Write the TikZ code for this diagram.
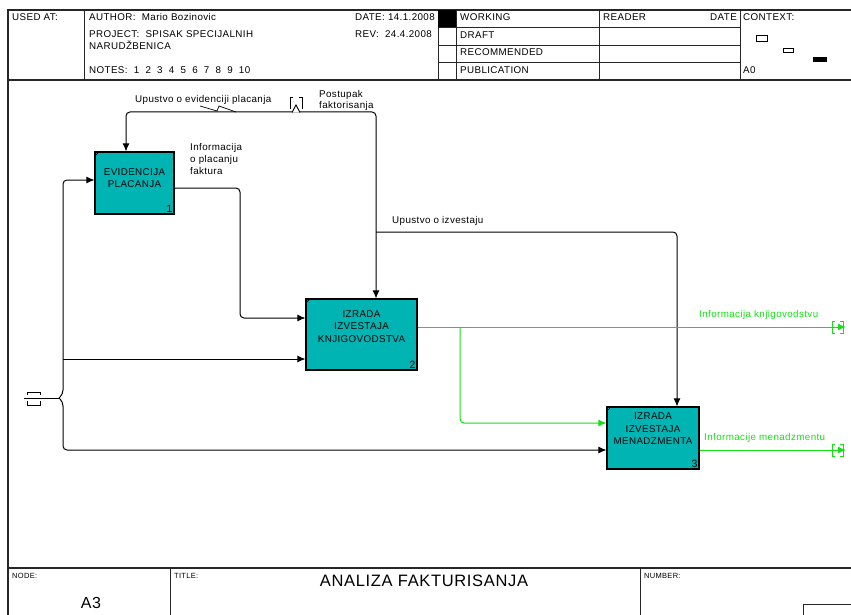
\documentclass[tikz,border=0pt]{standalone}
\usepackage{fontspec}
\setmainfont[LetterSpace=4]{Liberation Sans}
\usepackage{tikz}
\usetikzlibrary{arrows.meta,positioning,calc}
\definecolor{boxteal}{RGB}{0,180,180}
\definecolor{flowgreen}{RGB}{20,225,20}
\newcommand{\formfont}{\fontsize{9.8}{12}\selectfont}
\newcommand{\tinyfont}{\fontsize{7.5}{8}\selectfont}

\tikzset{
    frame/.style={line width=1.2pt, black!85},
    rule/.style={line width=0.9pt, black!85},
    formtext/.style={anchor=west, inner sep=0pt, text height=7pt, text depth=1.5pt, font=\formfont},
    actbox/.style={draw, line width=1.1pt, fill=boxteal},
    boxtext/.style={align=center, inner sep=0pt, font=\fontsize{9.8}{12.5}\selectfont},
    num/.style={anchor=south east, inner sep=2pt, font=\fontsize{10.5}{12}\selectfont},
    ctrl/.style={line width=1pt, rounded corners=4pt},
    gflow/.style={line width=1pt, flowgreen, rounded corners=4pt},
    lbl/.style={inner sep=0pt, font=\formfont}
}

\begin{document}
\begin{tikzpicture}[x=1pt, y=-1pt, >={Latex[length=8pt,width=7pt]}]
    \useasboundingbox (0,0) rectangle (851,615);

    % form frame
    \draw[frame] (8,615) -- (8,10) -- (851,10);
    \draw[frame] (8,80) -- (851,80);
    \draw[frame] (8,568) -- (851,568);
    \draw[rule] (84,10) -- (84,80);
    \draw[rule] (438,10) -- (438,80);
    \draw[rule] (456,10) -- (456,80);
    \draw[rule] (599,10) -- (599,80);
    \draw[rule] (740,10) -- (740,80);
    \foreach \y in {27.5,45,62.5} {
        \draw[rule] (438,\y) -- (740,\y);
    }
    \fill (438,10) rectangle (456,27.5);
    \draw[rule] (170,568) -- (170,615);
    \draw[rule] (640,568) -- (640,615);
    \draw[rule] (803,615) -- (803,604) -- (851,604);

    % header texts
    \node[formtext] (usedat) at (12,18) {USED AT:};
    \node[formtext] (author) at (89,18) {AUTHOR:\ \ Mario Bozinovic};
    \node[formtext] (project) at (89,35) {PROJECT:\ \ SPISAK SPECIJALNIH};
    \node[formtext] (project2) at (89,47) {NARUDŽBENICA};
    \node[formtext] (notes) at (89,71) {NOTES:\ \ 1\ \ 2\ \ 3\ \ 4\ \ 5\ \ 6\ \ 7\ \ 8\ \ 9\ \ 10};
    \node[formtext] (date) at (355,18) {DATE: 14.1.2008};
    \node[formtext] (rev) at (355,35) {REV:\ \ 24.4.2008};
    \node[formtext] (working) at (460,18) {WORKING};
    \node[formtext] (draft) at (460,35.5) {DRAFT};
    \node[formtext] (recommended) at (460,53) {RECOMMENDED};
    \node[formtext] (publication) at (460,71) {PUBLICATION};
    \node[formtext] (reader) at (603,18) {READER};
    \node[formtext, anchor=east] (rdate) at (737,18) {DATE};
    \node[formtext] (context) at (743,18) {CONTEXT:};
    \node[formtext] (a0) at (743,71) {A0};
    \draw[line width=0.8pt] (756,35) rectangle (767,41);
    \draw[line width=0.8pt] (783,48) rectangle (793,52);
    \fill (813,57) rectangle (827,62);

    % footer texts
    \node[formtext, font=\tinyfont] (nodelbl) at (12,576) {NODE:};
    \node[formtext, font=\tinyfont] (titlelbl) at (174,576) {TITLE:};
    \node[formtext, font=\tinyfont] (numberlbl) at (644,576) {NUMBER:};
    \node[inner sep=0pt, font=\fontsize{16.5}{18}\selectfont] (title) at (424,581) {ANALIZA FAKTURISANJA};
    \node[inner sep=0pt, font=\fontsize{16}{18}\selectfont] (nodeno) at (91,603) {A3};

    % activity boxes
    \node[actbox, minimum width=79pt, minimum height=62pt] (b1) at (134.5,183) {};
    \node[boxtext] (t1) at ([yshift=5pt]b1.center) {EVIDENCIJA\\PLACANJA};
    \node[num] (n1) at (b1.south east) {1};
    \node[actbox, minimum width=111pt, minimum height=71pt] (b2) at (361.5,334.5) {};
    \node[boxtext] (t2) at ([yshift=8pt]b2.center) {IZRADA\\IZVESTAJA\\KNJIGOVODSTVA};
    \node[num] (n2) at (b2.south east) {2};
    \node[actbox, minimum width=92pt, minimum height=62pt] (b3) at (653,438) {};
    \node[boxtext] (t3) at ([yshift=9pt]b3.center) {IZRADA\\IZVESTAJA\\MENADZMENTA};
    \node[num] (n3) at (b3.south east) {3};
    \foreach \b in {b1,b2,b3} {
        \draw[line width=0.6pt] ([yshift=-5pt]\b.north west) -- ([xshift=5pt]\b.north west);
    }

    % controls from the top tunnel
    \coordinate (tun1) at (296,112);
    \coordinate (c1) at (126,112);
    \coordinate (c2) at (376,112);
    \coordinate (j2) at (376,232);
    \coordinate (c3) at (677,232);
    \draw[ctrl,->] (tun1) -- (c1) -- (c1 |- b1.north);
    \draw[ctrl,->] (tun1) -- (c2) -- (c2 |- b2.north);
    \draw[ctrl,->] (j2) -- (c3) -- (c3 |- b3.north);
    \draw[line width=0.9pt] (293,97) -- (290,97) -- (290,109);
    \draw[line width=0.9pt] (299,97) -- (302,97) -- (302,109);
    \draw[line width=0.9pt, fill=white] (292,112.5) -- (296,105) -- (300,112.5);

    \node[lbl, anchor=west, text height=7pt, text depth=1.5pt] (l1) at (135,100) {Upustvo o evidenciji placanja};
    \draw[line width=0.7pt] (200,106) -- (217,111) -- (219,106) -- (236,112);
    \node[lbl, anchor=north west, align=left, font=\fontsize{9.8}{11}\selectfont] (l2) at (319,90) {Postupak\\faktorisanja};
    \node[lbl, anchor=west, text height=7pt, text depth=1.5pt] (l3) at (392,221) {Upustvo o izvestaju};

    % inputs from the left tunnel
    \coordinate (tun2) at (24,398);
    \coordinate (v1) at (59,398);
    \coordinate (i1) at (63,180);
    \coordinate (i2) at (63,359);
    \coordinate (i3) at (63,450);
    \draw[line width=0.9pt] (40,395) -- (40,392) -- (27,392) -- (27,395);
    \draw[line width=0.9pt] (40,401) -- (40,405) -- (27,405) -- (27,401);
    \draw[ctrl] (tun2) -- (v1);
    \draw[ctrl,->] (v1) -- (63,394) |- (b1.west |- i1);
    \draw[ctrl,->] (v1) -- (63,402) |- (b3.west |- i3);
    \draw[ctrl,->] (i2) -- (b2.west |- i2);

    % output of box 1 into box 2
    \coordinate (k1) at (240,188);
    \coordinate (k2) at (240,318);
    \draw[ctrl,->] (b1.east |- k1) -- (k1) |- (b2.west |- k2);
    \node[lbl, anchor=north west, align=left, font=\fontsize{9.8}{12}\selectfont] (l4) at (190,143) {Informacija\\o placanju\\faktura};

    % green outputs
    \coordinate (e1) at (846,327);
    \coordinate (e2) at (846,450);
    \coordinate (g2) at (460,327);
    \coordinate (g3) at (607,423);
    \draw[gflow,->] (b2.east |- e1) -- (e1);
    \draw[gflow,->] (g2) |- (b3.west |- g3);
    \draw[gflow,->] (b3.east |- e2) -- (e2);
    \foreach \e in {e1,e2} {
        \draw[flowgreen, line width=0.9pt] ([shift={(-11,-6)}]\e) -- ([shift={(-14,-6)}]\e) -- ([shift={(-14,6)}]\e) -- ([shift={(-11,6)}]\e);
        \draw[flowgreen, line width=0.9pt] ([shift={(-6,-6)}]\e) -- ([shift={(-3,-6)}]\e) -- ([shift={(-3,6)}]\e) -- ([shift={(-6,6)}]\e);
    }
    \node[lbl, anchor=west, text=flowgreen, text height=7pt, text depth=1.5pt] (l5) at (699,315) {Informacija knjigovodstvu};
    \node[lbl, anchor=west, text=flowgreen, text height=7pt, text depth=1.5pt] (l6) at (704,438) {Informacije menadzmentu};
\end{tikzpicture}
\end{document}
